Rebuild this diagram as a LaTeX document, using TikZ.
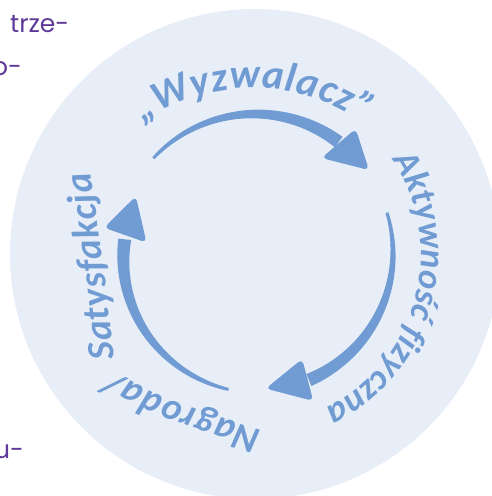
\documentclass[tikz,border=0pt]{standalone}
\usepackage{fontspec}
\setmainfont{Poppins}
\newfontfamily\labelfont{Carlito}
\usetikzlibrary{decorations.text}
\definecolor{discblue}{RGB}{232,238,247}
\definecolor{cycleblue}{RGB}{112,156,211}
\definecolor{notepurple}{RGB}{93,57,153}

\begin{document}
\begin{tikzpicture}[
    x=1pt, y=-1pt,
    note/.style={font=\fontsize{25}{30}\selectfont, text=notepurple, inner sep=0pt, anchor=base west},
    shaftfill/.style={fill=cycleblue, samples=40},
    headfill/.style={fill=cycleblue, rounded corners=5pt},
    cycletext/.style 2 args={decorate, decoration={text along path, text align={fit to path}, text color=cycleblue, text={|\labelfont\bfseries\itshape\fontsize{#1}{#1}\selectfont|#2}}},
  ]
  \useasboundingbox (0,0) rectangle (492,496);
  % disc
  \fill[discblue] (255,254) circle[radius=245];

  % text of the page, cut at the edge
  \node[note] (trze) at (10,32) {trze-};
  \node[note] (po) at (-8,75) {o-};
  \node[note] (pu) at (-6,458) {u-};

  % the three arrows of the cycle
  \begin{scope}[shift={(255,253)}]
    \fill[shaftfill] plot[domain=-137:-53] (\x:{140.5+5*(\x+137)/84}) -- plot[domain=-53:-137] (\x:{137.5-5*(\x+137)/84}) -- cycle;
    \fill[headfill] (-55:116) -- (-36:141) -- (-51:160) -- cycle;

    \fill[shaftfill] plot[domain=-17:67] (\x:{139.5+5*(\x+17)/84}) -- plot[domain=67:-17] (\x:{136.5-5*(\x+17)/84}) -- cycle;
    \fill[headfill] (66:116) -- (85.5:136) -- (68.5:159) -- cycle;

    \fill[shaftfill] plot[domain=101:186] (\x:{140.5-3*(\x-101)/85}) -- plot[domain=186:101] (\x:{137.5-13*(\x-101)/85}) -- cycle;
    \fill[headfill] (185.5:109) -- (205.5:132) -- (189.5:153) -- cycle;
  \end{scope}

  % labels along the cycle
  \path[cycletext={41}{„Wyzwalacz”}] (142.9,122.7) arc[start angle=-125, end angle=-55, radius=192];
  \path[cycletext={36}{Aktywność fizyczna}] (391.8,159.4) arc[start angle=-34, end angle=64, radius=171];
  \path[cycletext={38}{Nagroda/ Satysfakcja}] (262,430) .. controls (200,412) and (150,395) .. (116,372) .. controls (110,320) and (100,230) .. (90,172);
\end{tikzpicture}
\end{document}
